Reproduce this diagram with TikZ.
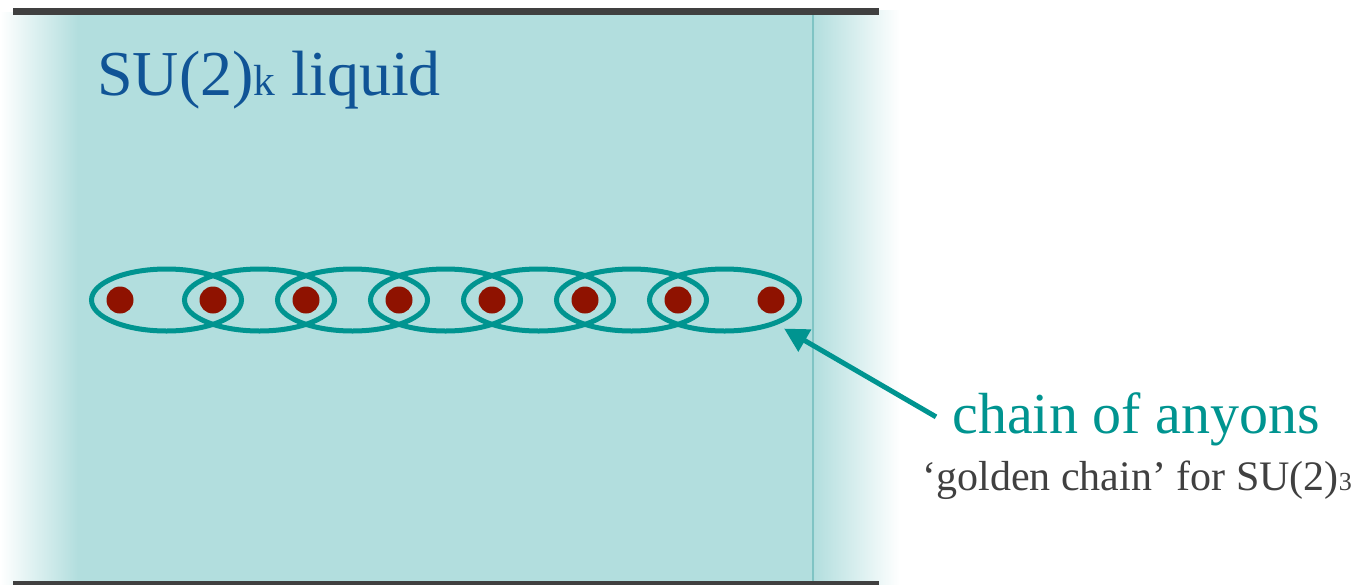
\documentclass[tikz,border=0pt]{standalone}
\usepackage{fontspec}
\setmainfont{Liberation Serif}
\usetikzlibrary{arrows.meta,positioning,calc,shapes.geometric}
\definecolor{liquid}{HTML}{B2DEDE}
\definecolor{liquidedge}{HTML}{7FC4C4}
\definecolor{chainteal}{HTML}{009490}
\definecolor{anyonred}{HTML}{8F1200}
\definecolor{titleblue}{HTML}{105496}
\definecolor{wallgray}{HTML}{404040}
\newcommand{\lowidx}[2][0.6]{\scalebox{#1}{#2}}
\tikzset{
  wall/.style={draw=wallgray, line width=3.5pt},
  anyon/.style={circle, fill=anyonred, inner sep=0pt, minimum size=13.5pt},
  link/.style={ellipse, draw=chainteal, line width=2.5pt, minimum width=75pt, minimum height=31pt, inner sep=0pt},
  pointer/.style={-{Triangle[length=12pt, width=12.3pt]}, draw=chainteal, line width=2.5pt},
}

\begin{document}
\begin{tikzpicture}[
  x=0.5pt, y=-0.5pt,
  title/.style={text=titleblue, font=\fontsize{32}{32}\selectfont, inner sep=0pt},
  chainlbl/.style={text=chainteal, font=\fontsize{29}{29}\selectfont, inner sep=0pt},
  note/.style={text=wallgray, font=\fontsize{21}{21}\selectfont, inner sep=0pt},
]
  \useasboundingbox (0,0) rectangle (1369,584);
  % the liquid, fading out at both sides
  \fill[left color=white, right color=liquid] (0,12) rectangle (78,584);
  \fill[liquid] (78,10) rectangle (813,584);
  \fill[left color=liquid, right color=white] (813,10) rectangle (900,584);
  \draw[liquidedge, line width=0.6pt] (813,10) -- (813,584);
  \draw[wall] (13,11.5) -- (879,11.5);
  \draw[wall] (13,584) -- (879,584);

  \node[title, anchor=base west] (liq) at (97,95) {SU(2)\lowidx[0.68]{k} liquid};

  \foreach \i in {1,...,8}
    \node[anyon] (a\i) at ({120+93*(\i-1)},300) {};
  \foreach \i [evaluate=\i as \j using int(\i+1)] in {1,...,7}
    \node[link] (e\i) at ($(a\i)!0.5!(a\j)$) {};

  \node[chainlbl, anchor=base west] (lbl) at (952,433) {chain of anyons};
  \node[note, anchor=base west] (gold) at (922,490) {`golden chain' for SU(2)\lowidx[0.62]{3}};
  \draw[pointer, shorten >=4pt] ([shift={(-8pt,1pt)}]lbl.west) -- (e7.-25);
\end{tikzpicture}
\end{document}
